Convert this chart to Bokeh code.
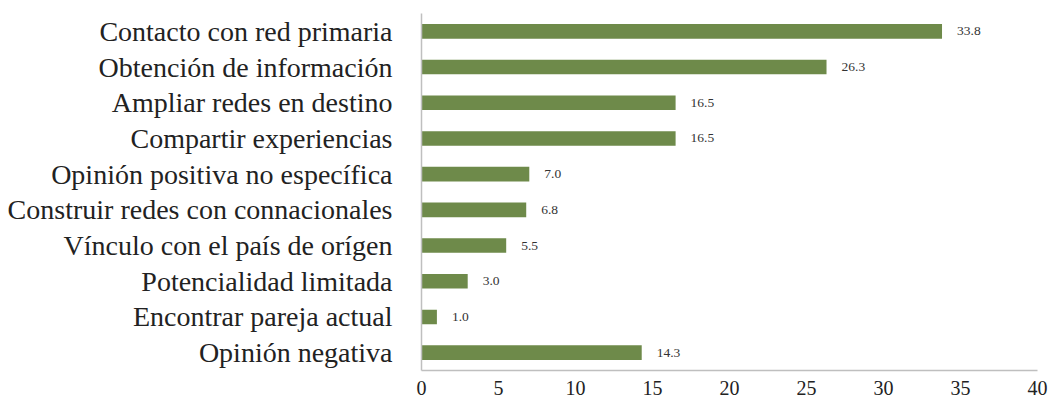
from bokeh.plotting import figure
from bokeh.models import ColumnDataSource, FactorRange, Range1d, FixedTicker
from bokeh.core.properties import value
from bokeh.embed import file_html
from bokeh.resources import INLINE

categories = [
    "Contacto con red primaria",
    "Obtención de información",
    "Ampliar redes en destino",
    "Compartir experiencias",
    "Opinión positiva no específica",
    "Construir redes con connacionales",
    "Vínculo con el país de orígen",
    "Potencialidad limitada",
    "Encontrar pareja actual",
    "Opinión negativa",
]
values = [33.8, 26.3, 16.5, 16.5, 7.0, 6.8, 5.5, 3.0, 1.0, 14.3]
labels = [f"{v:.1f}" for v in values]
x_ticks = [0, 5, 10, 15, 20, 25, 30, 35, 40]

FONT = "Liberation Serif"
BAR = "#6E8A4A"
AXIS = "#BFBFBF"

src = ColumnDataSource(dict(cat=categories, val=values, lab=labels))

p = figure(
    width=1048, height=397,
    y_range=FactorRange(*reversed(categories)),
    x_range=Range1d(0, 40),
    output_backend="svg", toolbar_location=None,
    min_border_left=421, min_border_right=11, min_border_top=13, min_border_bottom=24,
)
p.hbar(y="cat", right="val", left=0, height=0.41, source=src, color=BAR, line_color=None)
p.text(x="val", y="cat", text="lab", source=src, x_offset=15,
       text_font=value(FONT), text_font_size="13.5px", text_color="#333333",
       text_baseline="middle", text_align="left")

p.xgrid.visible = False
p.ygrid.visible = False
p.outline_line_color = None
p.background_fill_color = "white"
p.border_fill_color = "white"

p.xaxis.ticker = FixedTicker(ticks=x_ticks)
p.xaxis.major_tick_line_color = None
p.xaxis.minor_tick_line_color = None
p.xaxis.axis_line_color = AXIS
p.xaxis.axis_line_width = 1.5
p.xaxis.major_label_text_font = FONT
p.xaxis.major_label_text_font_size = "20px"
p.xaxis.major_label_text_color = "#222222"
p.xaxis.major_label_standoff = 4

p.yaxis.major_tick_line_color = None
p.yaxis.minor_tick_line_color = None
p.yaxis.axis_line_color = AXIS
p.yaxis.axis_line_width = 1.5
p.yaxis.major_label_text_font = FONT
p.yaxis.major_label_text_font_size = "28px"
p.yaxis.major_label_text_color = "#222222"
p.yaxis.major_label_standoff = 23

open("out.html", "w").write(file_html(p, INLINE))
